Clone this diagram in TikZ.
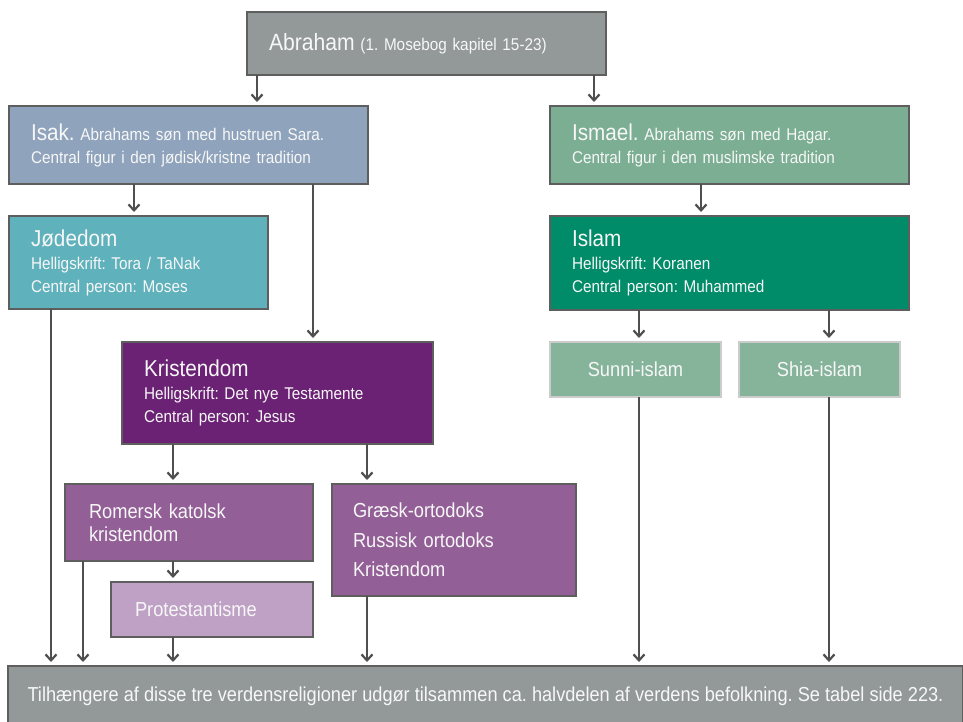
\documentclass[tikz,border=0pt]{standalone}
\usepackage{fontspec}
\setmainfont[FakeStretch=0.9]{Liberation Sans}
\usetikzlibrary{arrows.meta}
\definecolor{abrc}{HTML}{939998}
\definecolor{isakc}{HTML}{8FA3BC}
\definecolor{jodc}{HTML}{5FB2BC}
\definecolor{ismc}{HTML}{7BAE92}
\definecolor{islc}{HTML}{008B69}
\definecolor{sunc}{HTML}{86B49B}
\definecolor{krc}{HTML}{6B2174}
\definecolor{romc}{HTML}{935F97}
\definecolor{proc}{HTML}{BFA1C5}
\definecolor{txtc}{HTML}{F7F7F7}
\definecolor{arrc}{HTML}{4F4F4F}
\definecolor{bordc}{HTML}{5E5E5E}
\tikzset{
  box/.style={draw=bordc, line width=1.2pt, anchor=north west, outer sep=0pt,
    inner xsep=22pt, inner ysep=0pt, align=left, text=txtc,
    font=\frenchspacing\fontsize{17}{23}\selectfont},
  cbox/.style={box, align=center, draw=black!20},
  arr/.style={draw=arrc, line width=2.6pt, shorten >=4pt,
    -{Straight Barb[length=6pt,width=11pt,line width=2.2pt]}},
}
\newcommand{\ttl}[1]{{\fontsize{23}{23}\selectfont #1}}
\begin{document}
\frenchspacing
\begin{tikzpicture}[x=1pt,y=-1pt]
\useasboundingbox (0,0) rectangle (963,721);
\fill[white] (0,0) rectangle (963,721);
% boxes
\node[box, fill=abrc, minimum height=63pt, text width=315pt] (abr) at (247,12)
  {{\fontsize{23.5}{24}\selectfont Abraham} (1. Mosebog kapitel 15-23)};
\node[box, fill=isakc, minimum height=78pt, text width=315pt] (isak) at (9,106)
  {\ttl{Isak.} Abrahams søn med hustruen Sara.\\Central figur i den jødisk/kristne tradition};
\node[box, fill=ismc, minimum height=78pt, text width=315pt] (ism) at (550,106)
  {\ttl{Ismael.} Abrahams søn med Hagar.\\Central figur i den muslimske tradition};
\node[box, fill=jodc, minimum height=93pt, text width=215pt] (jod) at (9,216)
  {\ttl{Jødedom}\\Helligskrift: Tora / TaNak\\Central person: Moses};
\node[box, fill=islc, minimum height=94pt, text width=315pt] (isl) at (550,216)
  {\ttl{Islam}\\Helligskrift: Koranen\\Central person: Muhammed};
\node[box, fill=krc, minimum height=102pt, text width=267pt] (kr) at (122,342)
  {\ttl{Kristendom}\\Helligskrift: Det nye Testamente\\Central person: Jesus};
\node[cbox, fill=sunc, minimum width=171pt, minimum height=55pt, inner xsep=0pt,
  font=\fontsize{20.3}{23}\selectfont] (sun) at (550,342) {Sunni-islam};
\node[cbox, fill=sunc, minimum width=161pt, minimum height=55pt, inner xsep=0pt,
  font=\fontsize{20.3}{23}\selectfont] (shi) at (739,342) {Shia-islam};
\node[box, fill=romc, minimum height=77pt, text width=200pt, inner xsep=24pt,
  font=\fontsize{20.3}{23}\selectfont] (rom) at (65,484) {Romersk katolsk\\kristendom};
\node[box, fill=romc, minimum height=112pt, text width=202pt, inner xsep=21pt,
  font=\fontsize{20.3}{29.5}\selectfont] (gr) at (332,484) {Græsk-ortodoks\\Russisk ortodoks\\Kristendom};
\node[box, fill=proc, minimum height=55pt, text width=154pt, inner xsep=24pt,
  font=\fontsize{20.3}{23}\selectfont] (pro) at (111,582) {Protestantisme};
\node[draw=bordc, line width=1.2pt, anchor=north west, outer sep=0pt, inner sep=0pt,
  fill=abrc, text=txtc, minimum width=955pt, minimum height=60pt,
  font=\frenchspacing\fontsize{20.2}{23}\selectfont] (bot) at (8,666)
  {Tilhængere af disse tre verdensreligioner udgør tilsammen ca. halvdelen af verdens befolkning. Se tabel side 223.};
% connectors
\draw[arr] (abr.south -| 257,0) -- (isak.north -| 257,0);
\draw[arr] (abr.south -| 594,0) -- (ism.north -| 594,0);
\draw[arr] (isak.south -| 134,0) -- (jod.north -| 134,0);
\draw[arr] (isak.south -| 313,0) -- (kr.north -| 313,0);
\draw[arr] (ism.south -| 701,0) -- (isl.north -| 701,0);
\draw[arr] (isl.south -| 639,0) -- (sun.north -| 639,0);
\draw[arr] (isl.south -| 829,0) -- (shi.north -| 829,0);
\draw[arr] (jod.south -| 51,0) -- (bot.north -| 51,0);
\draw[arr] (kr.south -| 173,0) -- (rom.north -| 173,0);
\draw[arr] (kr.south -| 367,0) -- (gr.north -| 367,0);
\draw[arr] (rom.south -| 173,0) -- (pro.north -| 173,0);
\draw[arr] (rom.south -| 83,0) -- (bot.north -| 83,0);
\draw[arr] (pro.south -| 173,0) -- (bot.north -| 173,0);
\draw[arr] (gr.south -| 367,0) -- (bot.north -| 367,0);
\draw[arr] (sun.south -| 639,0) -- (bot.north -| 639,0);
\draw[arr] (shi.south -| 829,0) -- (bot.north -| 829,0);
\end{tikzpicture}
\end{document}
